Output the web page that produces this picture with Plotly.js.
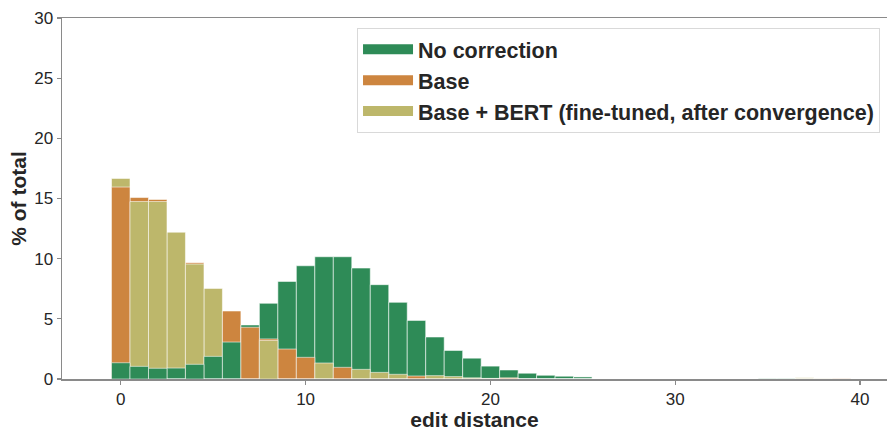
<!DOCTYPE html>
<html>
<head>
<meta charset="utf-8">
<script src="https://cdn.plot.ly/plotly-3.0.1.min.js"></script>
<style>html,body{margin:0;padding:0;background:#fff;}#chart{width:887px;height:431px;}</style>
</head>
<body>
<div id="chart"></div>
<script>
// edit distance bins (0..40)
const bins = [];
for (let i = 0; i <= 40; i++) bins.push(i);

const seriesNames = ["No correction", "Base", "Base + BERT (fine-tuned, after convergence)"];
const seriesColors = ["#2E8B57", "#CD853F", "#BDB76B"];

// % of total per edit distance bin
const noCorrection = [1.35, 1.05, 0.89, 0.91, 1.22, 1.88, 3.07, 4.49, 6.29, 8.11,
  9.41, 10.16, 10.16, 9.22, 7.84, 6.37, 4.87, 3.49, 2.37, 1.73,
  1.07, 0.75, 0.48, 0.31, 0.23, 0.17, 0, 0, 0, 0,
  0, 0, 0, 0, 0, 0.07, 0.07, 0, 0, 0, 0];
const base = [15.95, 15.08, 14.92, 0, 9.66, 0, 5.65, 4.30, 3.33, 2.49,
  1.80, 0, 0.97, 0, 0, 0, 0.25, 0, 0, 0,
  0, 0.10, 0, 0, 0, 0, 0, 0, 0, 0,
  0, 0, 0, 0, 0, 0, 0, 0, 0, 0.07, 0];
const baseBert = [16.67, 14.75, 14.75, 12.2, 9.55, 7.53, 0, 0, 3.20, 0,
  0, 1.33, 0, 0.80, 0.55, 0.39, 0, 0.28, 0.20, 0.10,
  0.05, 0, 0, 0, 0, 0, 0, 0, 0, 0,
  0, 0, 0, 0, 0, 0, 0, 0.10, 0.06, 0, 0];

const allSeries = [noCorrection, base, baseBert];

// layered overlay: tallest bar of each bin at the back, smallest in front
const layers = [[], [], []];
const layerColors = [[], [], []];
bins.forEach((b, i) => {
  const order = [0, 1, 2].sort((a, c) => allSeries[c][i] - allSeries[a][i]);
  order.forEach((s, k) => {
    layers[k].push(allSeries[s][i]);
    layerColors[k].push(seriesColors[s]);
  });
});

const traces = [];
for (let k = 0; k < 3; k++) {
  traces.push({
    type: "bar", x: bins, y: layers[k], width: 1,
    marker: { color: layerColors[k], line: { color: "rgba(255,255,255,0.55)", width: 1 } },
    showlegend: false, hoverinfo: "x+y"
  });
}
seriesNames.forEach((n, s) => {
  traces.push({
    type: "scatter", mode: "lines", x: [null], y: [null], name: n,
    line: { color: seriesColors[s], width: 13 }, showlegend: true
  });
});

const tickFont = { family: "Liberation Sans, Arial, sans-serif", size: 17, color: "#262626" };
const titleFont = { family: "Liberation Sans, Arial, sans-serif", size: 21, color: "#262626", weight: "bold" };

const layout = {
  width: 887, height: 431,
  margin: { l: 62, r: 0, t: 18, b: 52, pad: 0 },
  paper_bgcolor: "#fff", plot_bgcolor: "#fff",
  barmode: "overlay", bargap: 0,
  xaxis: {
    range: [-3.18, 41.46], tickvals: [0, 10, 20, 30, 40], ticktext: ["0", "10", "20", "30", "40"],
    showgrid: false, zeroline: false, showline: true, mirror: true, linecolor: "#8a8a8a", linewidth: 1.5,
    ticks: "outside", ticklen: 4, tickcolor: "#8a8a8a", tickwidth: 1.2, tickfont: tickFont,
    title: { text: "edit distance", font: titleFont, standoff: 6 }
  },
  yaxis: {
    range: [0, 30], tickvals: [0, 5, 10, 15, 20, 25, 30],
    showgrid: false, zeroline: false, showline: true, linecolor: "#8a8a8a", linewidth: 1.5,
    ticks: "outside", ticklen: 4, tickcolor: "#8a8a8a", tickwidth: 1.2, tickfont: tickFont,
    title: { text: "% of total", font: titleFont, standoff: 2 }
  },
  legend: {
    x: 0.3576, y: 0.973, xanchor: "left", yanchor: "top",
    bgcolor: "rgba(255,255,255,0.9)", bordercolor: "#d9d9d9", borderwidth: 1,
    font: { family: "Liberation Sans, Arial, sans-serif", size: 21.5, color: "#262626", weight: "bold" },
    itemwidth: 50, tracegroupgap: 0
  }
};

Plotly.newPlot("chart", traces, layout, { displayModeBar: false, staticPlot: true });
</script>
</body>
</html>
